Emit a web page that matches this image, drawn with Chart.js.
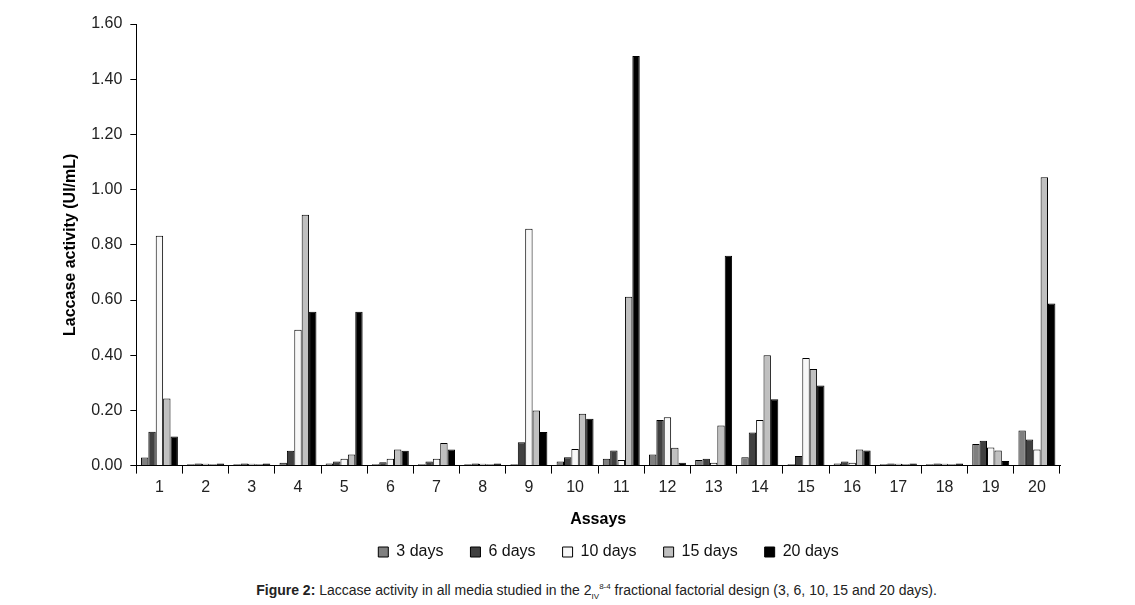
<!DOCTYPE html>
<html>
<head>
<meta charset="utf-8">
<script src="https://cdn.jsdelivr.net/npm/chart.js@4.4.1/dist/chart.umd.min.js"></script>
<style>
  html, body { margin: 0; padding: 0; background: #fff; }
  #wrap { position: relative; width: 1135px; height: 605px; }
  #chartBox { position: absolute; left: 0; top: 0; width: 1135px; height: 570px; }
  #caption {
    position: absolute; left: 29px; width: 1135px; top: 582px;
    text-align: center; font-family: "Liberation Sans", Arial, sans-serif;
    font-size: 14px; color: #222;
  }
  #caption sub, #caption sup { font-size: 8px; }
</style>
</head>
<body>
<div id="wrap">
  <div id="chartBox"><canvas id="myChart"></canvas></div>
  <div id="caption"><b>Figure 2:</b> Laccase activity in all media studied in the 2<sub>IV</sub><sup>8-4</sup> fractional factorial design (3, 6, 10, 15 and 20 days).</div>
</div>
<script>
// Assays 1..20
const assays = ['1', '2', '3', '4', '5', '6', '7', '8', '9', '10',
                '11', '12', '13', '14', '15', '16', '17', '18', '19', '20'];

// Laccase activity (UI/mL)
const days3  = [0.029, 0.005, 0.005, 0.010, 0.008, 0.005, 0.005, 0.005, 0.005, 0.015,
                0.025, 0.040, 0.020, 0.030, 0.005, 0.008, 0.005, 0.005, 0.078, 0.127];
const days6  = [0.123, 0.008, 0.008, 0.054, 0.015, 0.012, 0.015, 0.008, 0.085, 0.030,
                0.055, 0.165, 0.025, 0.120, 0.035, 0.015, 0.008, 0.008, 0.090, 0.095];
const days10 = [0.833, 0.007, 0.007, 0.492, 0.025, 0.025, 0.025, 0.007, 0.858, 0.060,
                0.020, 0.175, 0.010, 0.165, 0.390, 0.010, 0.007, 0.007, 0.066, 0.058];
const days15 = [0.243, 0.005, 0.005, 0.909, 0.040, 0.058, 0.082, 0.005, 0.200, 0.188,
                0.612, 0.065, 0.145, 0.400, 0.350, 0.058, 0.005, 0.005, 0.055, 1.045];
const days20 = [0.105, 0.008, 0.008, 0.557, 0.557, 0.054, 0.058, 0.008, 0.122, 0.170,
                1.484, 0.010, 0.760, 0.240, 0.290, 0.055, 0.008, 0.008, 0.017, 0.587];

const yTicks = [0, 0.2, 0.4, 0.6, 0.8, 1.0, 1.2, 1.4, 1.6];

const FONT = '"Liberation Sans", Arial, sans-serif';

function series(label, values, color) {
    return {
        label: label,
        data: values,
        backgroundColor: color,
        borderColor: '#000',
        borderWidth: 1,
        borderSkipped: 'bottom',
        categoryPercentage: 0.8,
        barPercentage: 1.0
    };
}

const data = {
    labels: assays,
    datasets: [
        series('3 days', days3, '#808080'),
        series('6 days', days6, '#404040'),
        series('10 days', days10, '#f8f8f8'),
        series('15 days', days15, '#c0c0c0'),
        series('20 days', days20, '#000000')
    ]
};

// the original legend sits a bit right of the page centre
const shiftLegend = {
    id: 'shiftLegend',
    afterLayout(chart) {
        if (chart.legend) {
            chart.legend.left += 50;
            chart.legend.right += 50;
        }
    }
};

const config = {
    type: 'bar',
    data: data,
    plugins: [shiftLegend],
    options: {
        responsive: true,
        maintainAspectRatio: false,
        animation: false,
        layout: {
            padding: { left: 57, right: 75, top: 24, bottom: 0 }
        },
        plugins: {
            legend: {
                position: 'bottom',
                labels: {
                    color: '#111',
                    font: { family: FONT, size: 16 },
                    boxWidth: 10,
                    boxHeight: 10,
                    padding: 27
                }
            },
            tooltip: { enabled: false }
        },
        scales: {
            x: {
                grid: {
                    offset: true,
                    drawOnChartArea: false,
                    drawTicks: true,
                    tickLength: 8,
                    color: '#000'
                },
                border: { display: true, color: '#000', width: 1 },
                ticks: {
                    color: '#222',
                    font: { family: FONT, size: 16 },
                    padding: 4
                },
                title: {
                    display: true,
                    text: 'Assays',
                    color: '#000',
                    font: { family: FONT, size: 16, weight: 'bold' },
                    padding: { top: 9, bottom: -12 }
                }
            },
            y: {
                min: 0,
                max: 1.6,
                afterBuildTicks: (axis) => {
                    axis.ticks = yTicks.map(v => ({ value: v }));
                },
                grid: {
                    drawOnChartArea: false,
                    drawTicks: true,
                    tickLength: 6,
                    color: '#000'
                },
                border: { display: true, color: '#000', width: 1 },
                ticks: {
                    color: '#222',
                    font: { family: FONT, size: 16 },
                    padding: 8,
                    callback: (v) => Number(v).toFixed(2)
                },
                title: {
                    display: true,
                    text: 'Laccase activity (UI/mL)',
                    color: '#000',
                    font: { family: FONT, size: 16, weight: 'bold' },
                    padding: { bottom: 3 }
                }
            }
        }
    }
};

const ctx = document.getElementById('myChart').getContext('2d');
const myChart = new Chart(ctx, config);
</script>
</body>
</html>
